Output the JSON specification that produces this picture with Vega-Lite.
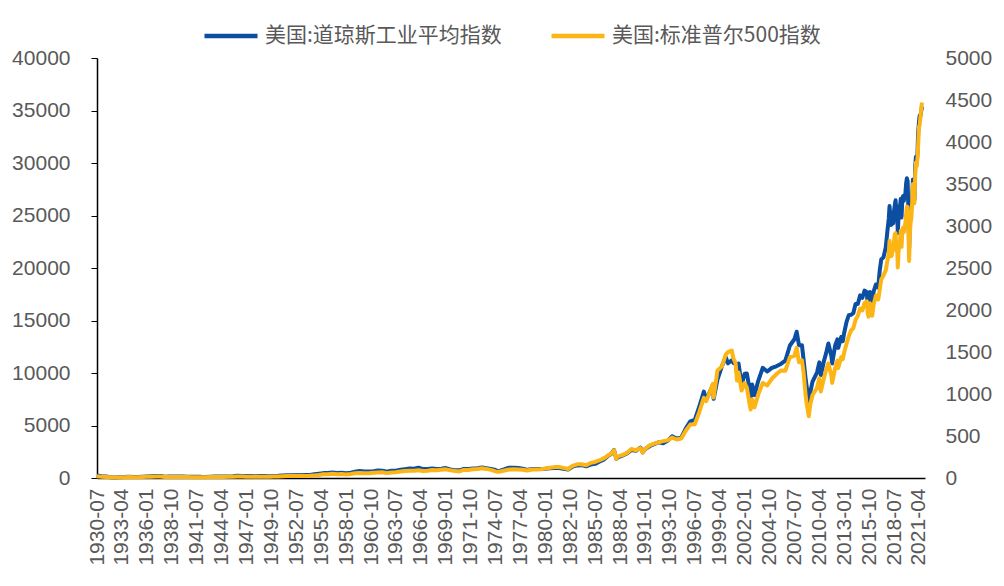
{
  "$schema": "https://vega.github.io/schema/vega-lite/v6.json",
  "width": 828,
  "height": 420,
  "autosize": {"type": "none"},
  "padding": {"left": 97, "top": 58, "right": 79, "bottom": 108},
  "background": "white",
  "config": {
    "font": "Liberation Sans",
    "view": {"stroke": null},
    "axis": {"grid": false, "labelColor": "#595959", "labelFontSize": 21, "domainColor": "#000000", "domainWidth": 1.5, "tickColor": "#000000", "title": null}
  },
  "data": {
    "values": [
      {"date": "1930-07-01", "dow": 233, "sp": 21.0},
      {"date": "1931-01-01", "dow": 168, "sp": 15.0},
      {"date": "1931-07-01", "dow": 136, "sp": 13.0},
      {"date": "1932-01-01", "dow": 76, "sp": 7.8},
      {"date": "1932-07-01", "dow": 54, "sp": 6.1},
      {"date": "1933-01-01", "dow": 60, "sp": 7.1},
      {"date": "1933-07-01", "dow": 98, "sp": 10.3},
      {"date": "1934-01-01", "dow": 108, "sp": 11.0},
      {"date": "1934-07-01", "dow": 88, "sp": 9.1},
      {"date": "1935-01-01", "dow": 104, "sp": 9.3},
      {"date": "1935-07-01", "dow": 126, "sp": 11.6},
      {"date": "1936-01-01", "dow": 149, "sp": 14.4},
      {"date": "1936-07-01", "dow": 164, "sp": 15.7},
      {"date": "1937-01-01", "dow": 185, "sp": 16.7},
      {"date": "1937-07-01", "dow": 185, "sp": 16.8},
      {"date": "1938-01-01", "dow": 122, "sp": 11.3},
      {"date": "1938-07-01", "dow": 141, "sp": 13.2},
      {"date": "1939-01-01", "dow": 143, "sp": 12.5},
      {"date": "1939-07-01", "dow": 143, "sp": 11.7},
      {"date": "1940-01-01", "dow": 146, "sp": 11.9},
      {"date": "1940-07-01", "dow": 126, "sp": 10.5},
      {"date": "1941-01-01", "dow": 125, "sp": 10.0},
      {"date": "1941-07-01", "dow": 128, "sp": 10.4},
      {"date": "1942-01-01", "dow": 110, "sp": 8.9},
      {"date": "1942-07-01", "dow": 106, "sp": 8.9},
      {"date": "1943-01-01", "dow": 125, "sp": 10.6},
      {"date": "1943-07-01", "dow": 136, "sp": 11.9},
      {"date": "1944-01-01", "dow": 137, "sp": 11.9},
      {"date": "1944-07-01", "dow": 146, "sp": 13.0},
      {"date": "1945-01-01", "dow": 153, "sp": 13.5},
      {"date": "1945-07-01", "dow": 163, "sp": 14.8},
      {"date": "1946-01-01", "dow": 204, "sp": 18.5},
      {"date": "1946-07-01", "dow": 201, "sp": 18.1},
      {"date": "1947-01-01", "dow": 180, "sp": 15.7},
      {"date": "1947-07-01", "dow": 186, "sp": 16.0},
      {"date": "1948-01-01", "dow": 175, "sp": 14.7},
      {"date": "1948-07-01", "dow": 181, "sp": 15.9},
      {"date": "1949-01-01", "dow": 179, "sp": 15.2},
      {"date": "1949-07-01", "dow": 175, "sp": 15.0},
      {"date": "1950-01-01", "dow": 201, "sp": 17.1},
      {"date": "1950-07-01", "dow": 209, "sp": 17.8},
      {"date": "1951-01-01", "dow": 249, "sp": 21.7},
      {"date": "1951-07-01", "dow": 258, "sp": 22.4},
      {"date": "1952-01-01", "dow": 270, "sp": 24.1},
      {"date": "1952-07-01", "dow": 280, "sp": 25.4},
      {"date": "1953-01-01", "dow": 290, "sp": 26.4},
      {"date": "1953-07-01", "dow": 275, "sp": 24.8},
      {"date": "1954-01-01", "dow": 292, "sp": 26.1},
      {"date": "1954-07-01", "dow": 347, "sp": 30.9},
      {"date": "1955-01-01", "dow": 409, "sp": 36.6},
      {"date": "1955-07-01", "dow": 465, "sp": 43.5},
      {"date": "1956-01-01", "dow": 470, "sp": 43.8},
      {"date": "1956-07-01", "dow": 518, "sp": 49.4},
      {"date": "1957-01-01", "dow": 479, "sp": 44.7},
      {"date": "1957-07-01", "dow": 508, "sp": 47.9},
      {"date": "1958-01-01", "dow": 450, "sp": 41.7},
      {"date": "1958-07-01", "dow": 502, "sp": 47.2},
      {"date": "1959-01-01", "dow": 594, "sp": 55.4},
      {"date": "1959-07-01", "dow": 675, "sp": 60.5},
      {"date": "1960-01-01", "dow": 622, "sp": 55.6},
      {"date": "1960-07-01", "dow": 617, "sp": 55.5},
      {"date": "1961-01-01", "dow": 648, "sp": 61.8},
      {"date": "1961-07-01", "dow": 705, "sp": 66.8},
      {"date": "1962-01-01", "dow": 700, "sp": 68.8},
      {"date": "1962-07-01", "dow": 597, "sp": 58.2},
      {"date": "1963-01-01", "dow": 683, "sp": 66.2},
      {"date": "1963-07-01", "dow": 695, "sp": 69.1},
      {"date": "1964-01-01", "dow": 785, "sp": 77.0},
      {"date": "1964-07-01", "dow": 841, "sp": 83.2},
      {"date": "1965-01-01", "dow": 903, "sp": 87.6},
      {"date": "1965-07-01", "dow": 882, "sp": 85.3},
      {"date": "1966-01-01", "dow": 984, "sp": 92.9},
      {"date": "1966-07-01", "dow": 847, "sp": 83.6},
      {"date": "1967-01-01", "dow": 850, "sp": 86.6},
      {"date": "1967-07-01", "dow": 904, "sp": 94.8},
      {"date": "1968-01-01", "dow": 856, "sp": 92.2},
      {"date": "1968-07-01", "dow": 883, "sp": 97.7},
      {"date": "1969-01-01", "dow": 946, "sp": 103.0},
      {"date": "1969-07-01", "dow": 816, "sp": 91.8},
      {"date": "1970-01-01", "dow": 744, "sp": 85.0},
      {"date": "1970-07-01", "dow": 734, "sp": 78.1},
      {"date": "1971-01-01", "dow": 869, "sp": 95.9},
      {"date": "1971-07-01", "dow": 858, "sp": 95.6},
      {"date": "1972-01-01", "dow": 902, "sp": 103.9},
      {"date": "1972-07-01", "dow": 924, "sp": 107.4},
      {"date": "1973-01-01", "dow": 999, "sp": 116.0},
      {"date": "1973-07-01", "dow": 926, "sp": 108.2},
      {"date": "1974-01-01", "dow": 856, "sp": 96.6},
      {"date": "1974-07-01", "dow": 757, "sp": 79.3},
      {"date": "1974-10-01", "dow": 666, "sp": 73.9},
      {"date": "1975-01-01", "dow": 704, "sp": 76.9},
      {"date": "1975-07-01", "dow": 832, "sp": 88.8},
      {"date": "1976-01-01", "dow": 975, "sp": 100.9},
      {"date": "1976-07-01", "dow": 985, "sp": 103.4},
      {"date": "1977-01-01", "dow": 954, "sp": 102.0},
      {"date": "1977-07-01", "dow": 891, "sp": 98.9},
      {"date": "1978-01-01", "dow": 770, "sp": 89.3},
      {"date": "1978-07-01", "dow": 862, "sp": 100.7},
      {"date": "1979-01-01", "dow": 860, "sp": 99.9},
      {"date": "1979-07-01", "dow": 846, "sp": 103.8},
      {"date": "1980-01-01", "dow": 876, "sp": 114.2},
      {"date": "1980-07-01", "dow": 935, "sp": 122.4},
      {"date": "1981-01-01", "dow": 947, "sp": 129.6},
      {"date": "1981-07-01", "dow": 952, "sp": 130.9},
      {"date": "1982-01-01", "dow": 871, "sp": 120.4},
      {"date": "1982-07-01", "dow": 809, "sp": 107.1},
      {"date": "1983-01-01", "dow": 1076, "sp": 145.3},
      {"date": "1983-07-01", "dow": 1199, "sp": 162.6},
      {"date": "1984-01-01", "dow": 1221, "sp": 163.4},
      {"date": "1984-07-01", "dow": 1115, "sp": 150.7},
      {"date": "1985-01-01", "dow": 1277, "sp": 179.6},
      {"date": "1985-07-01", "dow": 1348, "sp": 190.9},
      {"date": "1986-01-01", "dow": 1571, "sp": 211.8},
      {"date": "1986-07-01", "dow": 1775, "sp": 236.1},
      {"date": "1987-01-01", "dow": 2158, "sp": 274.1},
      {"date": "1987-04-01", "dow": 2286, "sp": 288.4},
      {"date": "1987-08-01", "dow": 2663, "sp": 329.8},
      {"date": "1987-11-01", "dow": 1834, "sp": 230.3},
      {"date": "1988-01-01", "dow": 1958, "sp": 257.1},
      {"date": "1988-07-01", "dow": 2129, "sp": 272.0},
      {"date": "1989-01-01", "dow": 2342, "sp": 297.5},
      {"date": "1989-07-01", "dow": 2661, "sp": 346.1},
      {"date": "1990-01-01", "dow": 2591, "sp": 329.1},
      {"date": "1990-07-01", "dow": 2905, "sp": 356.2},
      {"date": "1990-10-01", "dow": 2442, "sp": 304.0},
      {"date": "1991-01-01", "dow": 2736, "sp": 343.9},
      {"date": "1991-07-01", "dow": 3025, "sp": 387.8},
      {"date": "1992-01-01", "dow": 3224, "sp": 408.8},
      {"date": "1992-07-01", "dow": 3394, "sp": 424.2},
      {"date": "1993-01-01", "dow": 3310, "sp": 438.8},
      {"date": "1993-07-01", "dow": 3540, "sp": 448.1},
      {"date": "1994-01-01", "dow": 3978, "sp": 482.0},
      {"date": "1994-07-01", "dow": 3765, "sp": 458.3},
      {"date": "1995-01-01", "dow": 3844, "sp": 470.4},
      {"date": "1995-07-01", "dow": 4709, "sp": 562.1},
      {"date": "1996-01-01", "dow": 5395, "sp": 636.0},
      {"date": "1996-07-01", "dow": 5529, "sp": 639.9},
      {"date": "1997-01-01", "dow": 6813, "sp": 786.2},
      {"date": "1997-07-01", "dow": 8223, "sp": 954.3},
      {"date": "1997-10-01", "dow": 7442, "sp": 914.6},
      {"date": "1998-01-01", "dow": 7907, "sp": 980.3},
      {"date": "1998-07-01", "dow": 8883, "sp": 1120.7},
      {"date": "1998-08-01", "dow": 7539, "sp": 957.3},
      {"date": "1999-01-01", "dow": 9359, "sp": 1279.6},
      {"date": "1999-07-01", "dow": 10655, "sp": 1328.7},
      {"date": "1999-12-01", "dow": 11497, "sp": 1469.3},
      {"date": "2000-03-01", "dow": 10922, "sp": 1498.6},
      {"date": "2000-08-01", "dow": 11215, "sp": 1517.7},
      {"date": "2000-10-01", "dow": 10971, "sp": 1429.4},
      {"date": "2001-01-01", "dow": 10887, "sp": 1366.0},
      {"date": "2001-03-01", "dow": 9879, "sp": 1160.3},
      {"date": "2001-05-01", "dow": 10912, "sp": 1255.8},
      {"date": "2001-09-01", "dow": 8848, "sp": 1040.9},
      {"date": "2002-01-01", "dow": 9920, "sp": 1130.2},
      {"date": "2002-04-01", "dow": 9946, "sp": 1076.9},
      {"date": "2002-07-01", "dow": 8737, "sp": 911.6},
      {"date": "2002-09-01", "dow": 7592, "sp": 815.3},
      {"date": "2002-11-01", "dow": 8896, "sp": 936.3},
      {"date": "2003-02-01", "dow": 7891, "sp": 841.2},
      {"date": "2003-07-01", "dow": 9233, "sp": 990.3},
      {"date": "2004-01-01", "dow": 10488, "sp": 1131.1},
      {"date": "2004-07-01", "dow": 10140, "sp": 1101.7},
      {"date": "2005-01-01", "dow": 10490, "sp": 1181.3},
      {"date": "2005-07-01", "dow": 10641, "sp": 1234.2},
      {"date": "2006-01-01", "dow": 10865, "sp": 1280.1},
      {"date": "2006-07-01", "dow": 11186, "sp": 1276.7},
      {"date": "2007-01-01", "dow": 12622, "sp": 1438.2},
      {"date": "2007-07-01", "dow": 13212, "sp": 1455.3},
      {"date": "2007-10-01", "dow": 13930, "sp": 1549.4},
      {"date": "2008-01-01", "dow": 12650, "sp": 1378.6},
      {"date": "2008-05-01", "dow": 12638, "sp": 1400.4},
      {"date": "2008-07-01", "dow": 11378, "sp": 1267.4},
      {"date": "2008-10-01", "dow": 9325, "sp": 968.8},
      {"date": "2008-11-01", "dow": 8829, "sp": 896.2},
      {"date": "2009-02-01", "dow": 7063, "sp": 735.1},
      {"date": "2009-04-01", "dow": 8168, "sp": 872.8},
      {"date": "2009-07-01", "dow": 9172, "sp": 987.5},
      {"date": "2010-01-01", "dow": 10067, "sp": 1073.9},
      {"date": "2010-04-01", "dow": 11009, "sp": 1186.7},
      {"date": "2010-06-01", "dow": 9774, "sp": 1030.7},
      {"date": "2010-10-01", "dow": 11118, "sp": 1183.3},
      {"date": "2011-01-01", "dow": 11892, "sp": 1286.1},
      {"date": "2011-04-01", "dow": 12811, "sp": 1363.6},
      {"date": "2011-08-01", "dow": 11614, "sp": 1218.9},
      {"date": "2011-09-01", "dow": 10913, "sp": 1131.4},
      {"date": "2012-01-01", "dow": 12633, "sp": 1312.4},
      {"date": "2012-04-01", "dow": 13214, "sp": 1397.9},
      {"date": "2012-05-01", "dow": 12393, "sp": 1310.3},
      {"date": "2012-09-01", "dow": 13437, "sp": 1440.7},
      {"date": "2012-11-01", "dow": 13026, "sp": 1416.2},
      {"date": "2013-01-01", "dow": 13861, "sp": 1498.1},
      {"date": "2013-04-01", "dow": 14840, "sp": 1597.6},
      {"date": "2013-07-01", "dow": 15500, "sp": 1685.7},
      {"date": "2013-10-01", "dow": 15546, "sp": 1756.5},
      {"date": "2014-01-01", "dow": 15699, "sp": 1782.6},
      {"date": "2014-04-01", "dow": 16581, "sp": 1883.9},
      {"date": "2014-07-01", "dow": 16563, "sp": 1930.7},
      {"date": "2014-10-01", "dow": 17391, "sp": 2018.1},
      {"date": "2015-01-01", "dow": 17165, "sp": 1995.0},
      {"date": "2015-04-01", "dow": 17841, "sp": 2085.5},
      {"date": "2015-07-01", "dow": 17690, "sp": 2103.8},
      {"date": "2015-08-01", "dow": 16528, "sp": 1972.2},
      {"date": "2015-09-01", "dow": 16285, "sp": 1920.0},
      {"date": "2015-11-01", "dow": 17720, "sp": 2080.4},
      {"date": "2016-01-01", "dow": 16466, "sp": 1940.2},
      {"date": "2016-02-01", "dow": 16517, "sp": 1932.2},
      {"date": "2016-04-01", "dow": 17774, "sp": 2065.3},
      {"date": "2016-07-01", "dow": 18432, "sp": 2173.6},
      {"date": "2016-10-01", "dow": 18142, "sp": 2126.2},
      {"date": "2016-12-01", "dow": 19763, "sp": 2238.8},
      {"date": "2017-02-01", "dow": 20812, "sp": 2363.6},
      {"date": "2017-05-01", "dow": 21009, "sp": 2411.8},
      {"date": "2017-08-01", "dow": 21948, "sp": 2471.7},
      {"date": "2017-10-01", "dow": 23377, "sp": 2575.3},
      {"date": "2017-12-01", "dow": 24719, "sp": 2673.6},
      {"date": "2018-01-01", "dow": 25900, "sp": 2823.8},
      {"date": "2018-02-01", "dow": 25029, "sp": 2713.8},
      {"date": "2018-03-01", "dow": 24103, "sp": 2640.9},
      {"date": "2018-04-01", "dow": 24163, "sp": 2648.1},
      {"date": "2018-05-01", "dow": 24416, "sp": 2705.3},
      {"date": "2018-06-01", "dow": 24271, "sp": 2718.4},
      {"date": "2018-07-01", "dow": 25415, "sp": 2816.3},
      {"date": "2018-08-01", "dow": 25965, "sp": 2901.5},
      {"date": "2018-09-01", "dow": 26458, "sp": 2914.0},
      {"date": "2018-10-01", "dow": 25116, "sp": 2711.7},
      {"date": "2018-11-01", "dow": 25538, "sp": 2760.2},
      {"date": "2018-12-01", "dow": 23327, "sp": 2506.9},
      {"date": "2019-01-01", "dow": 24999, "sp": 2704.1},
      {"date": "2019-02-01", "dow": 25916, "sp": 2784.5},
      {"date": "2019-03-01", "dow": 25929, "sp": 2834.4},
      {"date": "2019-04-01", "dow": 26593, "sp": 2945.8},
      {"date": "2019-05-01", "dow": 24815, "sp": 2752.1},
      {"date": "2019-06-01", "dow": 26600, "sp": 2941.8},
      {"date": "2019-07-01", "dow": 26864, "sp": 2980.4},
      {"date": "2019-08-01", "dow": 26403, "sp": 2926.5},
      {"date": "2019-09-01", "dow": 26917, "sp": 2976.7},
      {"date": "2019-10-01", "dow": 27046, "sp": 3037.6},
      {"date": "2019-11-01", "dow": 28051, "sp": 3141.0},
      {"date": "2019-12-01", "dow": 28538, "sp": 3230.8},
      {"date": "2020-01-01", "dow": 28256, "sp": 3225.5},
      {"date": "2020-02-01", "dow": 25409, "sp": 2954.2},
      {"date": "2020-03-01", "dow": 21917, "sp": 2584.6},
      {"date": "2020-04-01", "dow": 24346, "sp": 2912.4},
      {"date": "2020-05-01", "dow": 25383, "sp": 3044.3},
      {"date": "2020-06-01", "dow": 25813, "sp": 3100.3},
      {"date": "2020-07-01", "dow": 26428, "sp": 3271.1},
      {"date": "2020-08-01", "dow": 28430, "sp": 3500.3},
      {"date": "2020-09-01", "dow": 27782, "sp": 3363.0},
      {"date": "2020-10-01", "dow": 26502, "sp": 3270.0},
      {"date": "2020-11-01", "dow": 29639, "sp": 3621.6},
      {"date": "2020-12-01", "dow": 30606, "sp": 3756.1},
      {"date": "2021-01-01", "dow": 29983, "sp": 3714.2},
      {"date": "2021-02-01", "dow": 30932, "sp": 3811.2},
      {"date": "2021-03-01", "dow": 32982, "sp": 3972.9},
      {"date": "2021-04-01", "dow": 33875, "sp": 4181.2},
      {"date": "2021-05-01", "dow": 34529, "sp": 4204.1},
      {"date": "2021-06-01", "dow": 34503, "sp": 4297.5},
      {"date": "2021-07-01", "dow": 34935, "sp": 4395.3},
      {"date": "2021-08-01", "dow": 35361, "sp": 4470.0}
    ]
  },
  "encoding": {
    "x": {
      "field": "date",
      "type": "temporal",
      "scale": {"type": "utc", "domain": [{"year": 1930, "month": 7, "date": 1, "utc": true}, {"year": 2021, "month": 12, "date": 1, "utc": true}]},
      "axis": {
        "labelExpr": "utcFormat(datum.value, '%Y-%m')",
        "labelAngle": 270,
        "labelAlign": "right",
        "labelBaseline": "middle",
        "labelPadding": 10,
        "ticks": false,
        "labelOverlap": false,
        "labelFlush": false,
        "values": [
          {"year": 1930, "month": 7, "date": 1, "utc": true},
          {"year": 1933, "month": 4, "date": 1, "utc": true},
          {"year": 1936, "month": 1, "date": 1, "utc": true},
          {"year": 1938, "month": 10, "date": 1, "utc": true},
          {"year": 1941, "month": 7, "date": 1, "utc": true},
          {"year": 1944, "month": 4, "date": 1, "utc": true},
          {"year": 1947, "month": 1, "date": 1, "utc": true},
          {"year": 1949, "month": 10, "date": 1, "utc": true},
          {"year": 1952, "month": 7, "date": 1, "utc": true},
          {"year": 1955, "month": 4, "date": 1, "utc": true},
          {"year": 1958, "month": 1, "date": 1, "utc": true},
          {"year": 1960, "month": 10, "date": 1, "utc": true},
          {"year": 1963, "month": 7, "date": 1, "utc": true},
          {"year": 1966, "month": 4, "date": 1, "utc": true},
          {"year": 1969, "month": 1, "date": 1, "utc": true},
          {"year": 1971, "month": 10, "date": 1, "utc": true},
          {"year": 1974, "month": 7, "date": 1, "utc": true},
          {"year": 1977, "month": 4, "date": 1, "utc": true},
          {"year": 1980, "month": 1, "date": 1, "utc": true},
          {"year": 1982, "month": 10, "date": 1, "utc": true},
          {"year": 1985, "month": 7, "date": 1, "utc": true},
          {"year": 1988, "month": 4, "date": 1, "utc": true},
          {"year": 1991, "month": 1, "date": 1, "utc": true},
          {"year": 1993, "month": 10, "date": 1, "utc": true},
          {"year": 1996, "month": 7, "date": 1, "utc": true},
          {"year": 1999, "month": 4, "date": 1, "utc": true},
          {"year": 2002, "month": 1, "date": 1, "utc": true},
          {"year": 2004, "month": 10, "date": 1, "utc": true},
          {"year": 2007, "month": 7, "date": 1, "utc": true},
          {"year": 2010, "month": 4, "date": 1, "utc": true},
          {"year": 2013, "month": 1, "date": 1, "utc": true},
          {"year": 2015, "month": 10, "date": 1, "utc": true},
          {"year": 2018, "month": 7, "date": 1, "utc": true},
          {"year": 2021, "month": 4, "date": 1, "utc": true}
        ]
      }
    },
    "color": {
      "scale": {"domain": ["美国:道琼斯工业平均指数", "美国:标准普尔500指数"], "range": ["#0B4EA2", "#FDB515"]},
      "legend": {
        "orient": "none",
        "direction": "horizontal",
        "legendX": 105,
        "legendY": -51,
        "title": null,
        "symbolType": "stroke",
        "symbolSize": 2809,
        "symbolStrokeWidth": 4.5,
        "labelFont": "Noto Sans CJK SC",
        "labelFontSize": 21,
        "labelColor": "#595959",
        "labelOffset": 5,
        "columnPadding": 40,
        "labelLimit": 400
      }
    }
  },
  "layer": [
    {
      "mark": {"type": "line", "strokeWidth": 4, "strokeJoin": "round"},
      "encoding": {
        "y": {
          "field": "dow",
          "type": "quantitative",
          "scale": {"domain": [0, 40000], "nice": false, "zero": true},
          "axis": {"orient": "left", "values": [0, 5000, 10000, 15000, 20000, 25000, 30000, 35000, 40000], "format": "d", "tickSize": 6, "labelPadding": 21}
        },
        "color": {"datum": "美国:道琼斯工业平均指数"}
      }
    },
    {
      "mark": {"type": "line", "strokeWidth": 4, "strokeJoin": "round"},
      "encoding": {
        "y": {
          "field": "sp",
          "type": "quantitative",
          "scale": {"domain": [0, 5000], "nice": false, "zero": true},
          "axis": {"orient": "right", "values": [0, 500, 1000, 1500, 2000, 2500, 3000, 3500, 4000, 4500, 5000], "format": "d", "domain": false, "ticks": false, "labelPadding": 20}
        },
        "color": {"datum": "美国:标准普尔500指数"}
      }
    }
  ],
  "resolve": {"scale": {"y": "independent"}, "axis": {"y": "independent"}}
}
